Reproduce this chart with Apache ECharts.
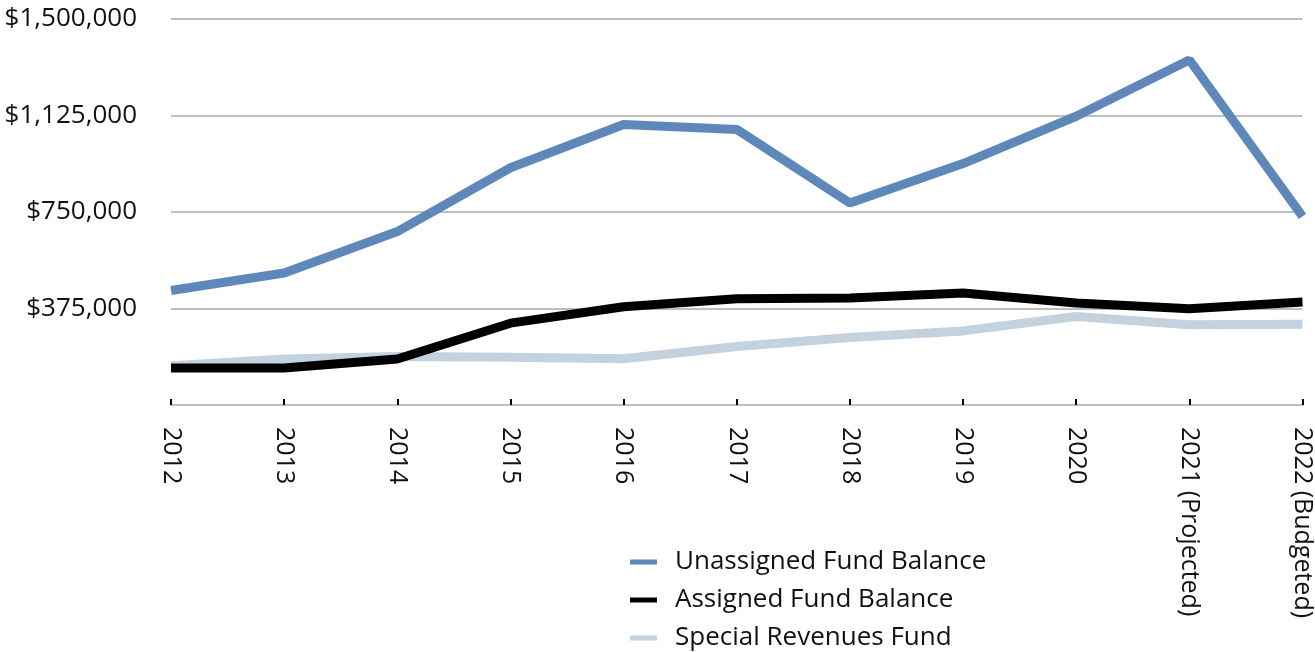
<!DOCTYPE html>
<html>
<head>
<meta charset="utf-8">
<script src="https://cdn.jsdelivr.net/npm/echarts@6/dist/echarts.min.js"></script>
<style>
html,body{margin:0;padding:0;background:#fff;}
#c{width:1315px;height:652px;}
</style>
</head>
<body>
<div id="c"></div>
<script>
const categories = ['2012','2013','2014','2015','2016','2017','2018','2019','2020','2021 (Projected)','2022 (Budgeted)'];
const unassigned = [445000, 513000, 674000, 922000, 1090000, 1071000, 785000, 938000, 1122000, 1341000, 733000];
const assigned = [144000, 144000, 179000, 318000, 382000, 413000, 416000, 435000, 396000, 374000, 400000];
const specialRevenues = [153000, 179000, 188000, 186000, 180000, 227000, 262000, 288000, 344000, 312000, 314000];
const yTicks = [0, 375000, 750000, 1125000, 1500000];

const FONT = '"Open Sans", Lato, sans-serif';
const chart = echarts.init(document.getElementById('c'), null, {renderer:'canvas'});
const fmt = v => '$' + v.toLocaleString('en-US');
chart.setOption({
  animation:false,
  grid:{left:171, right:9, top:19, bottom:247, containLabel:false},
  legend:{
    orient:'vertical', left:630, top:549, padding:0,
    data:['Unassigned Fund Balance','Assigned Fund Balance','Special Revenues Fund'],
    icon:'rect', itemWidth:27, itemHeight:5, itemGap:12,
    textStyle:{fontFamily:FONT, fontSize:26, lineHeight:25, color:'#111', padding:[0,0,0,13]}
  },
  xAxis:{
    type:'category', data:categories, boundaryGap:false,
    axisLine:{lineStyle:{color:'#bfbfbf', width:2}},
    axisTick:{inside:true, length:6, lineStyle:{color:'#000', width:2}},
    axisLabel:{rotate:-90, margin:22, fontFamily:FONT, fontSize:25, color:'#111', interval:0}
  },
  yAxis:{
    type:'value', min:0, max:1500000, interval:375000,
    axisLine:{show:false}, axisTick:{show:false},
    splitLine:{lineStyle:{color:'#bfbfbf', width:2}},
    axisLabel:{margin:34, fontFamily:FONT, fontSize:26, color:'#111',
      formatter: v => (v === 0 ? '' : fmt(v))}
  },
  series:[
    {name:'Special Revenues Fund', type:'line', data:specialRevenues, showSymbol:false, symbol:'none',
      lineStyle:{color:'#c4d1de', width:9}, itemStyle:{color:'#c4d1de'}},
    {name:'Assigned Fund Balance', type:'line', data:assigned, showSymbol:false, symbol:'none',
      lineStyle:{color:'#000000', width:9}, itemStyle:{color:'#000000'}},
    {name:'Unassigned Fund Balance', type:'line', data:unassigned, showSymbol:false, symbol:'none',
      lineStyle:{color:'#5e87ba', width:9}, itemStyle:{color:'#5e87ba'}}
  ]
});
</script>
</body>
</html>
